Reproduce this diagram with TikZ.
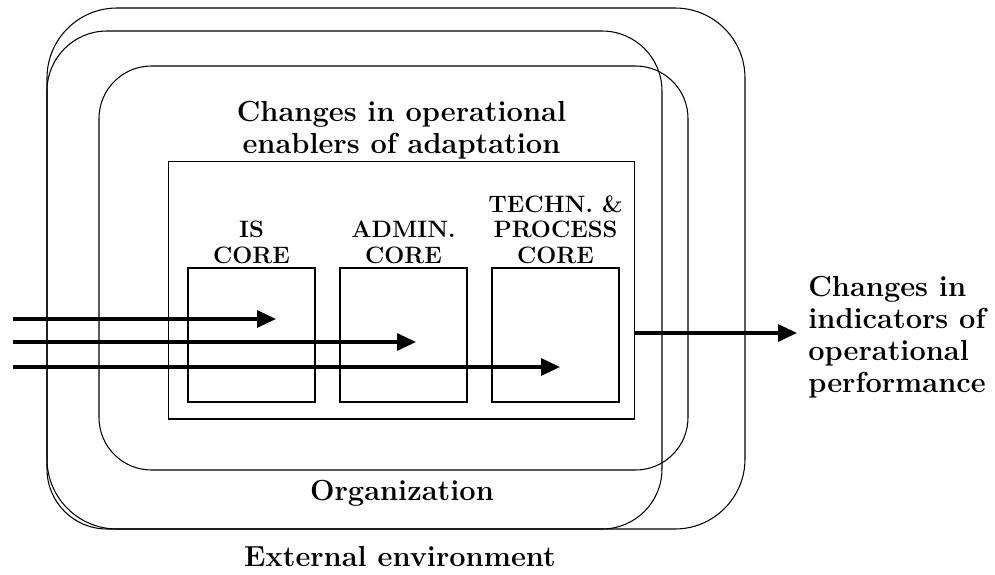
\documentclass[tikz,border=0pt]{standalone}
\usepackage{tikz}
\usetikzlibrary{arrows.meta,positioning}
\tikzset{
	txt/.style={font=\fontsize{16.5}{18.2}\selectfont\bfseries, align=center, inner sep=0pt},
	coretxt/.style={font=\fontsize{13.5}{14.6}\selectfont\bfseries, align=center, inner sep=0pt},
	corebox/.style={draw, line width=0.6pt, minimum width=2.54cm, minimum height=2.68cm, inner sep=0pt},
	flow/.style={line width=1.8pt, -{Triangle[length=0.38cm, width=0.34cm]}},
}

\begin{document}
\begin{tikzpicture}[x=0.02cm, y=-0.02cm]
			%%%%% START %%%%%
			\useasboundingbox (0, 0) rectangle (995, 575);
			
			% environment, organization and operations shells
			\draw[line width=0.6pt, rounded corners=1.4cm] (47, 8) rectangle (745, 529);
			\draw[line width=0.6pt, rounded corners=1.2cm] (47, 31) rectangle (662, 529);
			\draw[line width=0.6pt, rounded corners=1.05cm] (99, 66) rectangle (688, 470);
			
			% enablers box with its three cores
			\node[draw, line width=0.6pt, minimum width=9.34cm, minimum height=5.16cm, inner sep=0pt] (enablers) at (401.5, 290) {};
			\node[txt, above=0.5pt of enablers] (enablerstxt) {Changes in operational\\enablers of adaptation};
			
			\node[corebox] (iscore) at (251.5, 335) {};
			\node[corebox] (admincore) at (403.5, 335) {};
			\node[corebox] (techcore) at (555.5, 335) {};
			
			\node[coretxt, above=2pt of iscore] (istxt) {IS\\CORE};
			\node[coretxt, above=2pt of admincore] (admintxt) {ADMIN.\\CORE};
			\node[coretxt, above=2pt of techcore] (techtxt) {TECHN. \&\\PROCESS\\CORE};
			
			% incoming changes
			\coordinate (in1) at (13, 319);
			\coordinate (in2) at (13, 342);
			\coordinate (in3) at (13, 367);
			\coordinate (is1) at (276, 319);
			\coordinate (ad1) at (416, 342);
			\coordinate (te1) at (560, 367);
			\draw[flow] (in1) -- (is1);
			\draw[flow] (in2) -- (ad1);
			\draw[flow] (in3) -- (te1);
			
			% outgoing performance
			\coordinate (out0) at (enablers.east |- 0, 333);
			\coordinate (out1) at (797, 333);
			\draw[flow] (out0) -- (out1);
			\node[txt, align=left, right=0.22cm of out1, yshift=-0.08cm] (perftxt) {Changes in\\indicators of\\operational\\performance};
			
			\node[txt] (orgtxt) at (402, 493) {Organization};
			\node[txt] (envtxt) at (400, 557) {External environment};
			%%%%% END %%%%%
\end{tikzpicture}
\end{document}
